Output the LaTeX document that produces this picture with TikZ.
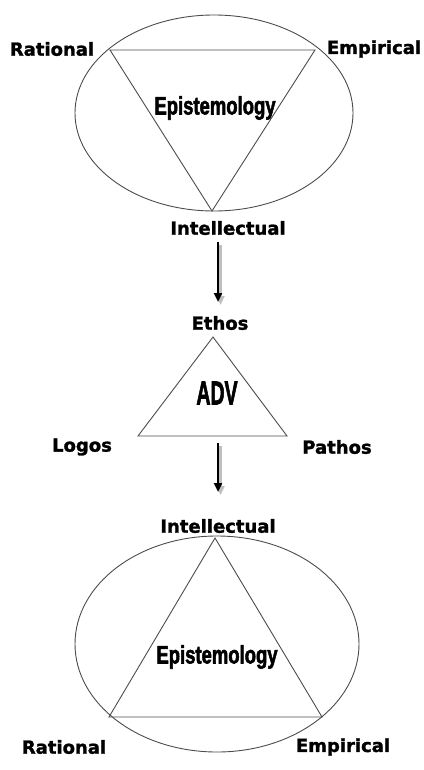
\documentclass[tikz,border=0pt]{standalone}
\usepackage{fontspec}
\setmainfont{DejaVu Sans}[BoldFeatures={FakeBold=1.5}]
\newfontfamily\heavyfont{Liberation Sans}[BoldFeatures={FakeBold=2.5}]
\usetikzlibrary{arrows.meta}
\begin{document}
\begin{tikzpicture}[x=1pt,y=-1pt,
  shapeline/.style={draw=black!70,line width=0.9pt},
  lbl/.style={font=\fontsize{18}{20}\selectfont\bfseries,inner sep=0pt},
  shadowarrow/.style={draw=black!25,line width=2.6pt,-{Triangle[length=9pt,width=8pt]}},
  mainarrow/.style={draw=black,line width=2.6pt,-{Triangle[length=9pt,width=8pt]}}]
\useasboundingbox (0,0) rectangle (423,770);
% top group
\draw[shapeline] (214,113) ellipse [x radius=139, y radius=98];
\coordinate (r1) at (110,50);
\coordinate (e1) at (315,50);
\coordinate (i1) at (212,211);
\draw[shapeline] (r1) -- (e1) -- (i1) -- cycle;
\node[lbl] (rat1) at (52,49) {Rational};
\node[lbl] (emp1) at (374,49) {Empirical};
\node[lbl] (int1) at (228,228) {Intellectual};
\node[inner sep=0pt] (epi1) at (215,108) {\scalebox{0.77}[1.05]{\heavyfont\fontsize{24}{24}\selectfont\bfseries Epistemology}};
% arrow 1
\coordinate (a1s) at (218,242);
\coordinate (a1e) at (218,302);
\draw[shadowarrow] ([shift={(2.5,3)}]a1s) -- ([shift={(2.5,3)}]a1e);
\draw[mainarrow] (a1s) -- (a1e);
% ADV triangle
\node[lbl] (eth) at (220,323) {Ethos};
\coordinate (ta) at (213,337);
\coordinate (tl) at (138,436);
\coordinate (tr) at (287,436);
\draw[shapeline] (ta) -- (tl) -- (tr) -- cycle;
\node[inner sep=0pt] (adv) at (217,393) {\scalebox{0.65}[1.1]{\heavyfont\fontsize{30}{30}\selectfont\bfseries ADV}};
\node[lbl] (log) at (82,447) {Logos};
\node[lbl] (pat) at (337,447) {Pathos};
% arrow 2
\coordinate (a2s) at (218,443);
\coordinate (a2e) at (218,492);
\draw[shadowarrow] ([shift={(2.5,3)}]a2s) -- ([shift={(2.5,3)}]a2e);
\draw[mainarrow] (a2s) -- (a2e);
% bottom group
\node[lbl] (int2) at (218,526) {Intellectual};
\draw[shapeline] (217,644) ellipse [x radius=142, y radius=108];
\coordinate (i2) at (215,538);
\coordinate (r2) at (109,717);
\coordinate (e2) at (322,717);
\draw[shapeline] (i2) -- (r2) -- (e2) -- cycle;
\node[inner sep=0pt] (epi2) at (217,657) {\scalebox{0.77}[1.05]{\heavyfont\fontsize{24}{24}\selectfont\bfseries Epistemology}};
\node[lbl] (rat2) at (64,747) {Rational};
\node[lbl] (emp2) at (343,747) {Empirical};
\end{tikzpicture}
\end{document}
